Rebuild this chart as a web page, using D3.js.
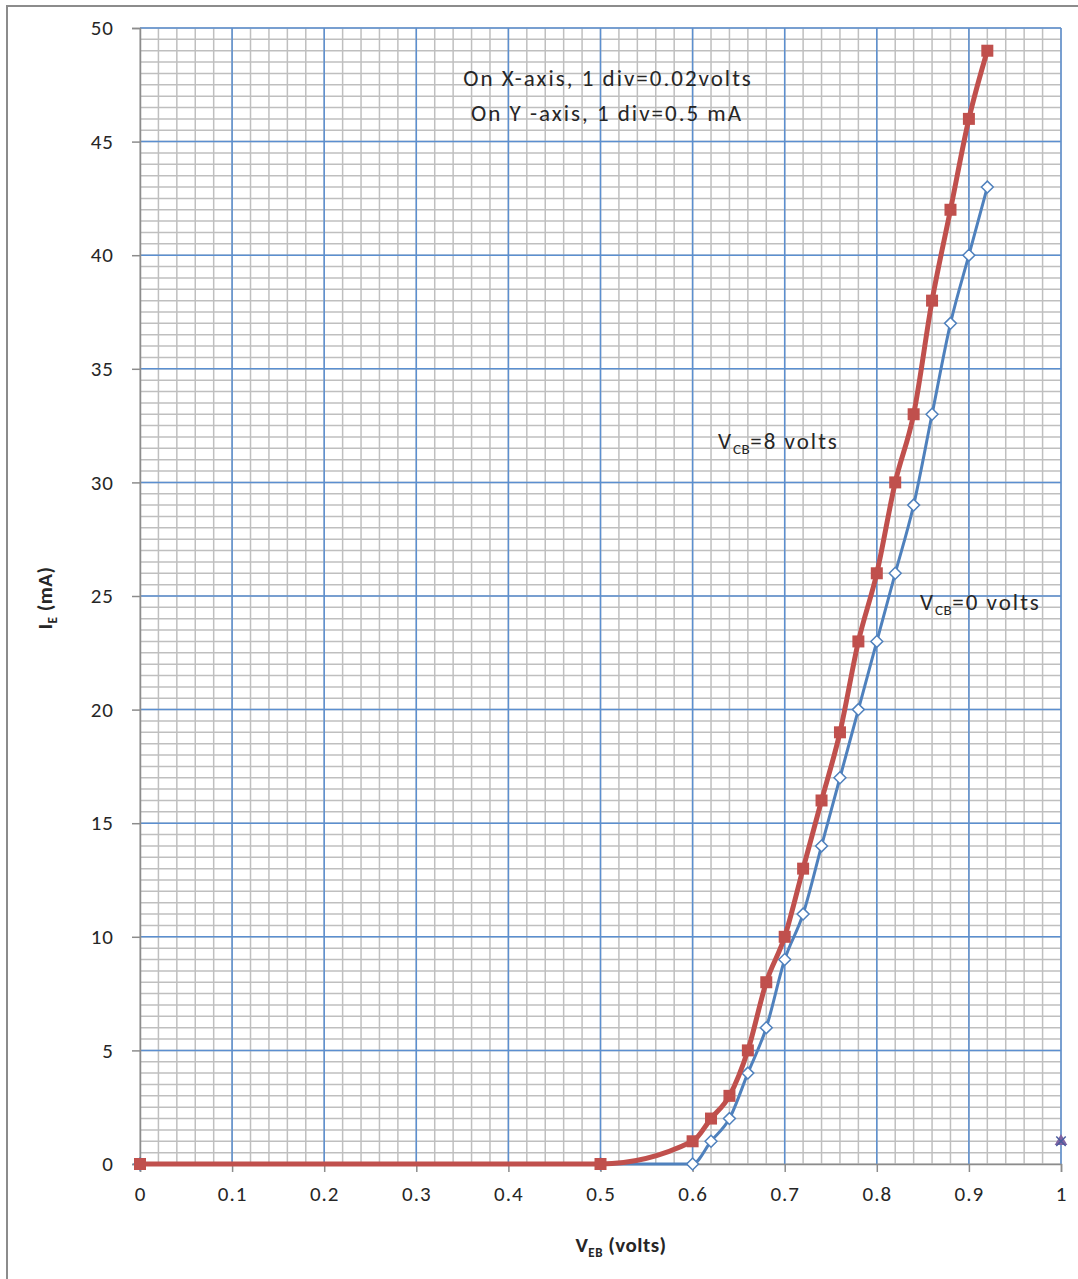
<!DOCTYPE html>
<html lang="en">
<head>
    <meta charset="UTF-8">
    <title>Input characteristics</title>
    <script src="https://d3js.org/d3.v7.min.js"></script>
    <style>
        body { margin: 0; background: #fff; }
        svg text { font-family: Carlito, Lato, "Liberation Sans", sans-serif; fill: #262626; }
    </style>
</head>
<body>
    <div id="chart-container"></div>

    <script>
        // data
        const vebRed = [0, 0.5, 0.6, 0.62, 0.64, 0.66, 0.68, 0.70, 0.72, 0.74, 0.76, 0.78, 0.80, 0.82, 0.84, 0.86, 0.88, 0.90, 0.92];
        const ieRed  = [0, 0,   1,   2,    3,    5,    8,    10,   13,   16,   19,   23,   26,   30,   33,   38,   42,   46,   49];
        const vebBlue = [0, 0.5, 0.6, 0.62, 0.64, 0.66, 0.68, 0.70, 0.72, 0.74, 0.76, 0.78, 0.80, 0.82, 0.84, 0.86, 0.88, 0.90, 0.92];
        const ieBlue  = [0, 0,   0,   1,    2,    4,    6,    9,    11,   14,   17,   20,   23,   26,   29,   33,   37,   40,   43];
        const vebExtra = [1];
        const ieExtra  = [1];
        const xTicks = [0, 0.1, 0.2, 0.3, 0.4, 0.5, 0.6, 0.7, 0.8, 0.9, 1];
        const yTicks = [0, 5, 10, 15, 20, 25, 30, 35, 40, 45, 50];

        const W = 1078, H = 1279;
        const margin = { top: 28, right: 17, bottom: 115, left: 140 };
        const width = W - margin.left - margin.right;
        const height = H - margin.top - margin.bottom;

        const svg = d3.select("#chart-container")
            .append("svg")
            .attr("width", W)
            .attr("height", H);

        // outer chart border (cut at right/bottom like the reference)
        svg.append("rect")
            .attr("x", 7).attr("y", 6)
            .attr("width", W + 20).attr("height", H + 20)
            .attr("fill", "none")
            .attr("stroke", "#8c8c8c")
            .attr("stroke-width", 2);

        const g = svg.append("g")
            .attr("transform", `translate(${margin.left}, ${margin.top})`);

        const xScale = d3.scaleLinear().domain([0, 1]).range([0, width]);
        const yScale = d3.scaleLinear().domain([0, 50]).range([height, 0]);

        // minor grid
        const xMinor = d3.range(0, 51).map(i => i * 0.02);
        const yMinor = d3.range(0, 101).map(i => i * 0.5);
        g.append("g").selectAll("line")
            .data(xMinor).enter().append("line")
            .attr("x1", d => xScale(d)).attr("x2", d => xScale(d))
            .attr("y1", 0).attr("y2", height)
            .attr("stroke", "#bfbfbf").attr("stroke-width", 1.5);
        g.append("g").selectAll("line")
            .data(yMinor).enter().append("line")
            .attr("y1", d => yScale(d)).attr("y2", d => yScale(d))
            .attr("x1", 0).attr("x2", width)
            .attr("stroke", "#bfbfbf").attr("stroke-width", 1.5);

        // major grid
        g.append("g").selectAll("line")
            .data(xTicks.filter(d => d > 0)).enter().append("line")
            .attr("x1", d => xScale(d)).attr("x2", d => xScale(d))
            .attr("y1", 0).attr("y2", height)
            .attr("stroke", "#5b8fd0").attr("stroke-width", 1.5);
        g.append("g").selectAll("line")
            .data(yTicks.filter(d => d > 0)).enter().append("line")
            .attr("y1", d => yScale(d)).attr("y2", d => yScale(d))
            .attr("x1", 0).attr("x2", width)
            .attr("stroke", "#5b8fd0").attr("stroke-width", 1.5);

        // axes
        const xAxis = d3.axisBottom(xScale).tickValues(xTicks).tickSize(8).tickPadding(14)
            .tickFormat(d => d === 0 ? "0" : d === 1 ? "1" : d3.format(".1f")(d));
        const yAxis = d3.axisLeft(yScale).tickValues(yTicks).tickSize(8).tickPadding(18)
            .tickFormat(d3.format("d"));

        const gx = g.append("g")
            .attr("transform", `translate(0, ${height})`)
            .call(xAxis);
        const gy = g.append("g").call(yAxis);

        [gx, gy].forEach(a => {
            a.select(".domain").attr("stroke", "#8c8c8c").attr("stroke-width", 1.5);
            a.selectAll(".tick line").attr("stroke", "#8c8c8c").attr("stroke-width", 1.5);
            a.selectAll(".tick text")
                .style("font-family", "Carlito, Lato, 'Liberation Sans', sans-serif")
                .style("font-size", "21px")
                .style("letter-spacing", "1px")
                .attr("fill", "#262626");
        });

        // axis titles
        const yTitle = svg.append("text")
            .attr("transform", "translate(52, 598) rotate(-90)")
            .attr("text-anchor", "middle")
            .style("font-size", "21px")
            .style("letter-spacing", "0.5px")
            .style("font-weight", "bold");
        yTitle.append("tspan").text("I");
        yTitle.append("tspan").attr("dy", 5).style("font-size", "13px").text("E");
        yTitle.append("tspan").attr("dy", -5).text(" (mA)");

        const xTitle = svg.append("text")
            .attr("x", 621).attr("y", 1252)
            .attr("text-anchor", "middle")
            .style("font-size", "21px")
            .style("letter-spacing", "0.5px")
            .style("font-weight", "bold");
        xTitle.append("tspan").text("V");
        xTitle.append("tspan").attr("dy", 5).style("font-size", "13px").text("EB");
        xTitle.append("tspan").attr("dy", -5).text(" (volts)");

        // series
        const redData = vebRed.map((v, i) => ({ x: v, y: ieRed[i] }));
        const blueData = vebBlue.map((v, i) => ({ x: v, y: ieBlue[i] }));
        const extraData = vebExtra.map((v, i) => ({ x: v, y: ieExtra[i] }));

        const line = d3.line()
            .x(d => xScale(d.x))
            .y(d => yScale(d.y))
            .curve(d3.curveMonotoneX);

        g.append("path")
            .datum(blueData)
            .attr("d", line)
            .attr("fill", "none")
            .attr("stroke", "#4f81bd")
            .attr("stroke-width", 3);

        g.append("g").selectAll("path")
            .data(blueData).enter().append("path")
            .attr("transform", d => `translate(${xScale(d.x)}, ${yScale(d.y)})`)
            .attr("d", d3.symbol().type(d3.symbolDiamond2).size(90))
            .attr("fill", "#fff")
            .attr("stroke", "#4f81bd")
            .attr("stroke-width", 1.5);

        g.append("path")
            .datum(redData)
            .attr("d", line)
            .attr("fill", "none")
            .attr("stroke", "#c0504d")
            .attr("stroke-width", 5);

        g.append("g").selectAll("rect")
            .data(redData).enter().append("rect")
            .attr("x", d => xScale(d.x) - 6)
            .attr("y", d => yScale(d.y) - 6)
            .attr("width", 12).attr("height", 12)
            .attr("fill", "#c0504d");

        const extra = g.append("g").selectAll("g")
            .data(extraData).enter().append("g")
            .attr("transform", d => `translate(${xScale(d.x)}, ${yScale(d.y)})`);
        extra.append("path")
            .attr("d", d3.symbol().type(d3.symbolTriangle).size(70))
            .attr("fill", "#8064a2");
        extra.append("path")
            .attr("d", d3.symbol().type(d3.symbolX).size(60))
            .attr("fill", "none")
            .attr("stroke", "#4b5d9e")
            .attr("stroke-width", 1.5);

        // annotations
        const note = svg.append("g").style("font-size", "23px").style("letter-spacing", "2px");
        note.append("text").attr("x", 608).attr("y", 86).attr("text-anchor", "middle")
            .text("On X-axis, 1 div=0.02volts");
        note.append("text").attr("x", 607).attr("y", 121).attr("text-anchor", "middle")
            .text("On Y -axis, 1 div=0.5 mA");

        const lab1 = svg.append("text").attr("x", 718).attr("y", 449)
            .style("font-size", "23px").style("letter-spacing", "2px");
        lab1.append("tspan").text("V");
        lab1.append("tspan").attr("dy", 5).style("font-size", "15px").style("letter-spacing", "0.5px").text("CB");
        lab1.append("tspan").attr("dy", -5).text("=8  volts");

        const lab2 = svg.append("text").attr("x", 920).attr("y", 610)
            .style("font-size", "23px").style("letter-spacing", "2px");
        lab2.append("tspan").text("V");
        lab2.append("tspan").attr("dy", 5).style("font-size", "15px").style("letter-spacing", "0.5px").text("CB");
        lab2.append("tspan").attr("dy", -5).text("=0  volts");
    </script>
</body>
</html>
